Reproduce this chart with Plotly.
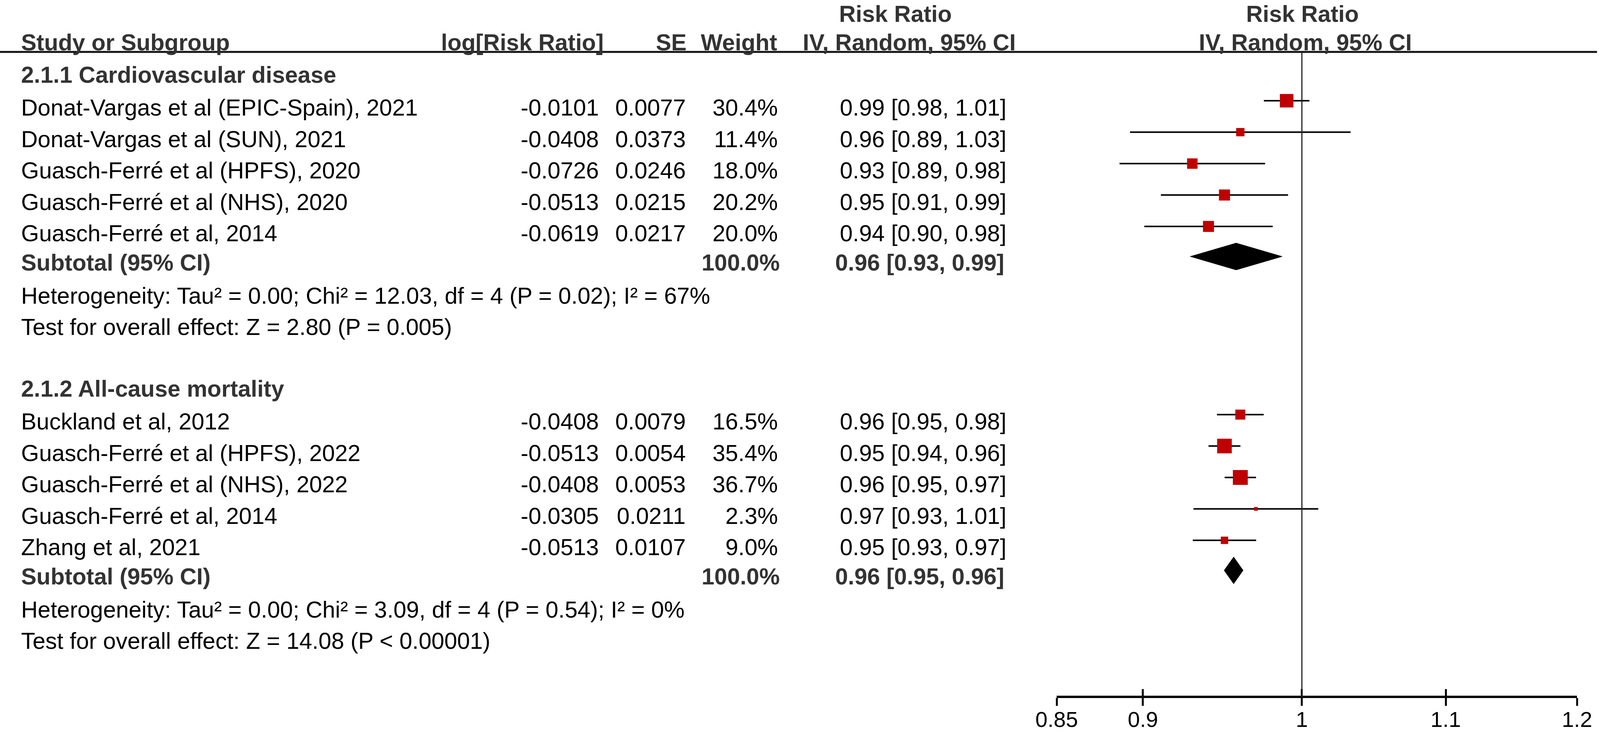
import numpy as np
import plotly.graph_objects as go

W, H = 4314, 1875

# ---------------- data ----------------
group_titles = ["2.1.1 Cardiovascular disease", "2.1.2 All-cause mortality"]

cvd_studies = [
    "Donat-Vargas et al (EPIC-Spain), 2021",
    "Donat-Vargas et al (SUN), 2021",
    "Guasch-Ferré et al (HPFS), 2020",
    "Guasch-Ferré et al (NHS), 2020",
    "Guasch-Ferré et al, 2014",
]
cvd_log_rr = [-0.0101, -0.0408, -0.0726, -0.0513, -0.0619]
cvd_se = [0.0077, 0.0373, 0.0246, 0.0215, 0.0217]
cvd_weight = [30.4, 11.4, 18.0, 20.2, 20.0]
cvd_ci = ["0.99 [0.98, 1.01]", "0.96 [0.89, 1.03]", "0.93 [0.89, 0.98]",
          "0.95 [0.91, 0.99]", "0.94 [0.90, 0.98]"]
cvd_subtotal = "0.96 [0.93, 0.99]"
cvd_het = "Heterogeneity: Tau² = 0.00; Chi² = 12.03, df = 4 (P = 0.02); I² = 67%"
cvd_test = "Test for overall effect: Z = 2.80 (P = 0.005)"

acm_studies = [
    "Buckland et al, 2012",
    "Guasch-Ferré et al (HPFS), 2022",
    "Guasch-Ferré et al (NHS), 2022",
    "Guasch-Ferré et al, 2014",
    "Zhang et al, 2021",
]
acm_log_rr = [-0.0408, -0.0513, -0.0408, -0.0305, -0.0513]
acm_se = [0.0079, 0.0054, 0.0053, 0.0211, 0.0107]
acm_weight = [16.5, 35.4, 36.7, 2.3, 9.0]
acm_ci = ["0.96 [0.95, 0.98]", "0.95 [0.94, 0.96]", "0.96 [0.95, 0.97]",
          "0.97 [0.93, 1.01]", "0.95 [0.93, 0.97]"]
acm_subtotal = "0.96 [0.95, 0.96]"
acm_het = "Heterogeneity: Tau² = 0.00; Chi² = 3.09, df = 4 (P = 0.54); I² = 0%"
acm_test = "Test for overall effect: Z = 14.08 (P < 0.00001)"

tick_vals = [0.85, 0.9, 1, 1.1, 1.2]
tick_text = ["0.85", "0.9", "1", "1.1", "1.2"]

# ---------------- layout constants ----------------
FONT = "Liberation Sans, Arial, sans-serif"
FS = 59
BLACK = "#000000"
GRAY = "#333333"
RED = "#bf0000"

group_top = [192, 996]      # y of the subgroup title (px from top)
PITCH = 80.5
FIRST = 84
SUB_GAP = 75
HET_GAP = 85
TEST_GAP = 80
MARK_UP = 18                # plot marks sit a little above the text line
AXIS_Y = 1785
RULE_Y = 133

COL_NAME = 55
COL_LOG = 1617
COL_SE = 1850
COL_W = 2099
COL_CI = 2715


def dersimonian_laird(y, se):
    y = np.asarray(y)
    v = np.asarray(se) ** 2
    w = 1 / v
    ybar = np.sum(w * y) / np.sum(w)
    q = np.sum(w * (y - ybar) ** 2)
    c = np.sum(w) - np.sum(w ** 2) / np.sum(w)
    tau2 = max(0.0, (q - (len(y) - 1)) / c)
    ws = 1 / (v + tau2)
    est = np.sum(ws * y) / np.sum(ws)
    sp = 1 / np.sqrt(np.sum(ws))
    return est, est - 1.96 * sp, est + 1.96 * sp


ann = []


def txt(x, y, s, anchor="left", bold=False, size=FS, color=None):
    ann.append(dict(
        x=x / W, xref="paper", y=y, yref="y",
        text="<b>%s</b>" % s if bold else s,
        showarrow=False, xanchor=anchor, yanchor="middle",
        font=dict(family=FONT, size=size, color=color or (GRAY if bold else BLACK)),
    ))


# headers
txt(2415, 36, "Risk Ratio", "center", True)
txt(3512, 36, "Risk Ratio", "center", True)
txt(COL_NAME, 109, "Study or Subgroup", "left", True)
txt(1629, 109, "log[Risk Ratio]", "right", True)
txt(1854, 109, "SE", "right", True)
txt(2098, 109, "Weight", "right", True)
txt(2741, 109, "IV, Random, 95% CI", "right", True)
txt(3519, 109, "IV, Random, 95% CI", "center", True)

groups = [
    (cvd_studies, cvd_log_rr, cvd_se, cvd_weight, cvd_ci, cvd_subtotal, cvd_het, cvd_test),
    (acm_studies, acm_log_rr, acm_se, acm_weight, acm_ci, acm_subtotal, acm_het, acm_test),
]

traces = []
for g, (names, lrr, se, wt, ci, sub, het, test) in enumerate(groups):
    y0 = group_top[g]
    txt(COL_NAME, y0, group_titles[g], "left", True)
    ys = [y0 + FIRST + i * PITCH for i in range(len(names))]
    for i, yy in enumerate(ys):
        txt(COL_NAME, yy, names[i])
        txt(COL_LOG, yy, "%.4f" % lrr[i], "right")
        txt(COL_SE, yy, "%.4f" % se[i], "right")
        txt(COL_W, yy, "%.1f%%" % wt[i], "right")
        txt(COL_CI, yy, ci[i], "right")
    y_sub = ys[-1] + SUB_GAP
    txt(COL_NAME, y_sub, "Subtotal (95% CI)", "left", True)
    txt(2104, y_sub, "100.0%", "right", True)
    txt(2710, y_sub, sub, "right", True)
    txt(COL_NAME, y_sub + HET_GAP, het)
    txt(COL_NAME, y_sub + HET_GAP + TEST_GAP, test)

    # confidence interval whiskers
    lx, ly = [], []
    for i, yy in enumerate(ys):
        lx += [np.exp(lrr[i] - 1.96 * se[i]), np.exp(lrr[i] + 1.96 * se[i]), None]
        ly += [yy - MARK_UP, yy - MARK_UP, None]
    traces.append(go.Scatter(x=lx, y=ly, mode="lines",
                             line=dict(color=BLACK, width=4), hoverinfo="skip"))
    # weighted squares
    traces.append(go.Scatter(
        x=np.exp(lrr), y=[yy - MARK_UP for yy in ys], mode="markers",
        marker=dict(symbol="square", color=RED, opacity=1,
                    size=6.3 * np.sqrt(wt), line=dict(width=0)),
        hoverinfo="skip"))
    # pooled diamond
    est, lo, hi = dersimonian_laird(lrr, se)
    yc = y_sub - 16
    half = 34.5
    traces.append(go.Scatter(
        x=np.exp([lo, est, hi, est, lo]), y=[yc, yc - half, yc, yc + half, yc],
        mode="lines", fill="toself", fillcolor=BLACK,
        line=dict(color=BLACK, width=1), hoverinfo="skip"))

# dummy trace so the overlay axis (inner tick halves) is drawn
traces.append(go.Scatter(x=[1], y=[-100], xaxis="x2", yaxis="y", mode="markers",
                         marker=dict(opacity=0), hoverinfo="skip"))

fig = go.Figure(data=traces)

x_dom = [2849 / W, 4252 / W]
x_rng = [np.log10(0.85), np.log10(1.2)]
axis_pos = 1 - AXIS_Y / H

fig.update_layout(
    width=W, height=H,
    margin=dict(l=0, r=0, t=0, b=0, autoexpand=False),
    paper_bgcolor="white", plot_bgcolor="white",
    showlegend=False,
    annotations=ann,
    xaxis=dict(
        type="log", domain=x_dom, range=x_rng, anchor="free", position=axis_pos,
        automargin=False,
        showline=True, linecolor=BLACK, linewidth=6,
        ticks="outside", ticklen=20, tickwidth=5, tickcolor=BLACK,
        tickvals=tick_vals, ticktext=tick_text, ticklabelstandoff=-13,
        tickfont=dict(family=FONT, size=56, color=BLACK),
        showgrid=False, zeroline=False, fixedrange=True,
    ),
    xaxis2=dict(
        type="log", domain=x_dom, range=x_rng, overlaying="x", anchor="free",
        position=axis_pos, automargin=False, showline=False, ticks="inside",
        ticklen=20, tickwidth=5, tickcolor=BLACK, tickvals=tick_vals,
        showticklabels=False, showgrid=False, zeroline=False, fixedrange=True,
    ),
    yaxis=dict(range=[H, 0], domain=[0, 1], visible=False, automargin=False,
               fixedrange=True),
    shapes=[
        dict(type="line", xref="paper", x0=0, x1=4306 / W, yref="y",
             y0=RULE_Y, y1=RULE_Y, line=dict(color="#111111", width=5)),
        dict(type="line", xref="x", x0=1, x1=1, yref="y",
             y0=RULE_Y, y1=AXIS_Y, line=dict(color="#222222", width=3)),
    ],
)

# no page margin; if the window is narrower than the figure, shrink the
# figure to the visible area so the right end of the axis is not cut off
fit_js = (
    "document.body.style.margin='0px';"
    "document.body.style.overflow='hidden';"
    "var gd=document.getElementById('{plot_id}');"
    "var w=Math.min(window.innerWidth||%d, document.documentElement.clientWidth||%d);"
    "var h=Math.min(window.innerHeight||%d, %d);"
    "if(w<1000){w=%d;} if(h<600){h=%d;}"
    "if(w<%d||h<%d){Plotly.relayout(gd,{width:w,height:h});}"
) % (W, W, H, H, W, H, W, H)

fig.write_html("out.html", config={"displayModeBar": False}, post_script=fit_js)
